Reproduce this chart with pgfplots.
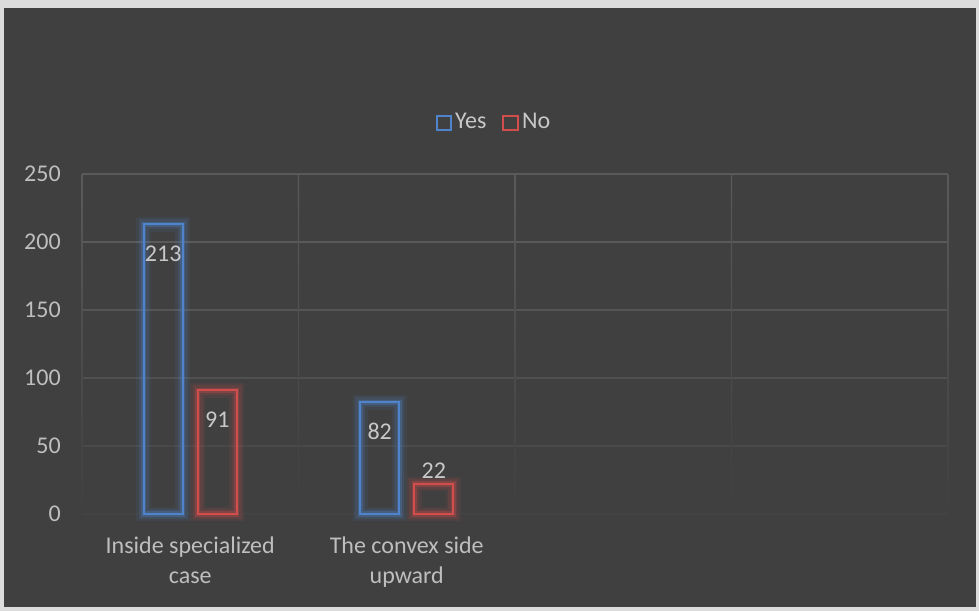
\documentclass[border=0pt]{standalone}
\usepackage{pgfplots}
\pgfplotsset{compat=1.18}
\usepackage{pgfplotstable}
\usepackage{fontspec}
\setmainfont{Carlito}

\definecolor{frame}{HTML}{DCDCDC}
\definecolor{bg}{HTML}{404040}
\definecolor{gridtop}{HTML}{5A5A5A}
\definecolor{gridbot}{HTML}{434343}
\definecolor{yesblue}{HTML}{4F84CC}
\definecolor{nored}{HTML}{D14E4C}
\definecolor{labtext}{HTML}{C8C8C8}
\definecolor{ticktext}{HTML}{BEBEBE}

% x = category slot, y = count, dy = label offset from the bar top (pt)
\pgfplotstableread{
x y dy
0 213 -21.75
1 82 -21.75
}\yesdata
\pgfplotstableread{
x y dy
0 91 -21.75
1 22 9.75
}\nodata

\begin{document}
\begin{tikzpicture}
\fontsize{18pt}{22.5pt}\selectfont
% page and chart area
\fill[frame] (0,0) rectangle (734.25pt,458.25pt);
\fill[bg] (3pt,3pt) rectangle (732pt,452.25pt);
\begin{axis}[
  at={(61.5pt,72.75pt)}, anchor=south west,
  scale only axis, width=649.5pt, height=255pt,
  xmin=-0.5, xmax=3.5, ymin=0, ymax=250,
  ytick={0,50,...,250},
  xtick={0,1},
  xticklabels={{Inside specialized\\case},{The convex side\\upward}},
  axis line style={draw=none}, tick style={draw=none},
  major tick length=0pt,
  /pgf/number format/assume math mode=true,
  ticklabel style={font=\fontsize{18pt}{22.5pt}\selectfont, text=ticktext},
  yticklabel style={anchor=east, inner sep=0pt, xshift=-15.75pt},
  xticklabel style={anchor=north, align=center, inner sep=0pt, yshift=-17.25pt},
  ybar, bar width=0.18,
  clip=false,
  legend columns=2,
  legend style={at={(0.476,1.15)}, anchor=center, draw=none, fill=none,
    text=labtext, font=\fontsize{18pt}{22.5pt}\selectfont,
    /tikz/every even column/.append style={column sep=10pt}},
  legend image code/.code={\draw[#1, fill=none, line width=1.5pt] (0pt,-5.6pt) rectangle (11.2pt,5.6pt);},
]
% grid, fading towards the bottom
\draw[color=gridtop, line width=0.8pt] (axis cs:-0.5,250) -- (axis cs:3.5,250);
\draw[color=gridtop, line width=0.8pt] (axis cs:-0.5,200) -- (axis cs:3.5,200);
\draw[color=gridtop!80!gridbot, line width=0.8pt] (axis cs:-0.5,150) -- (axis cs:3.5,150);
\draw[color=gridtop!55!gridbot, line width=0.8pt] (axis cs:-0.5,100) -- (axis cs:3.5,100);
\draw[color=gridtop!25!gridbot, line width=0.8pt] (axis cs:-0.5,50) -- (axis cs:3.5,50);
\draw[color=gridbot, line width=0.8pt] (axis cs:-0.5,0) -- (axis cs:3.5,0);
\shade[top color=gridtop, bottom color=bg] ([xshift=-0.4pt]axis cs:-0.5,0) rectangle ([xshift=0.4pt]axis cs:-0.5,250);
\shade[top color=gridtop, bottom color=bg] ([xshift=-0.4pt]axis cs:0.5,0) rectangle ([xshift=0.4pt]axis cs:0.5,250);
\shade[top color=gridtop, bottom color=bg] ([xshift=-0.4pt]axis cs:1.5,0) rectangle ([xshift=0.4pt]axis cs:1.5,250);
\shade[top color=gridtop, bottom color=bg] ([xshift=-0.4pt]axis cs:2.5,0) rectangle ([xshift=0.4pt]axis cs:2.5,250);
\shade[top color=gridtop, bottom color=bg] ([xshift=-0.4pt]axis cs:3.5,0) rectangle ([xshift=0.4pt]axis cs:3.5,250);

% soft glow around the bar outlines
\addplot[forget plot, bar shift=-0.125, draw=yesblue, fill=none, line width=11pt, draw opacity=0.09] table[x=x,y=y] {\yesdata};
\addplot[forget plot, bar shift=-0.125, draw=yesblue, fill=none, line width=7.5pt, draw opacity=0.15] table[x=x,y=y] {\yesdata};
\addplot[forget plot, bar shift=-0.125, draw=yesblue, fill=none, line width=4pt, draw opacity=0.3] table[x=x,y=y] {\yesdata};
\addplot[forget plot, bar shift=0.125, draw=nored, fill=none, line width=11pt, draw opacity=0.09] table[x=x,y=y] {\nodata};
\addplot[forget plot, bar shift=0.125, draw=nored, fill=none, line width=7.5pt, draw opacity=0.15] table[x=x,y=y] {\nodata};
\addplot[forget plot, bar shift=0.125, draw=nored, fill=none, line width=4pt, draw opacity=0.3] table[x=x,y=y] {\nodata};

% the bars with their value labels
\addplot[bar shift=-0.125, draw=yesblue, fill=none, line width=1.5pt,
  visualization depends on={\thisrow{dy} \as \labdy},
  nodes near coords,
  every node near coord/.append style={anchor=center, yshift=\labdy pt, text=labtext,
    font=\fontsize{18pt}{22.5pt}\selectfont}]
  table[x=x,y=y] {\yesdata};
\addplot[bar shift=0.125, draw=nored, fill=none, line width=1.5pt,
  visualization depends on={\thisrow{dy} \as \labdy},
  nodes near coords,
  every node near coord/.append style={anchor=center, yshift=\labdy pt, text=labtext,
    font=\fontsize{18pt}{22.5pt}\selectfont}]
  table[x=x,y=y] {\nodata};
\legend{Yes,No}
\end{axis}
\end{tikzpicture}
\end{document}
